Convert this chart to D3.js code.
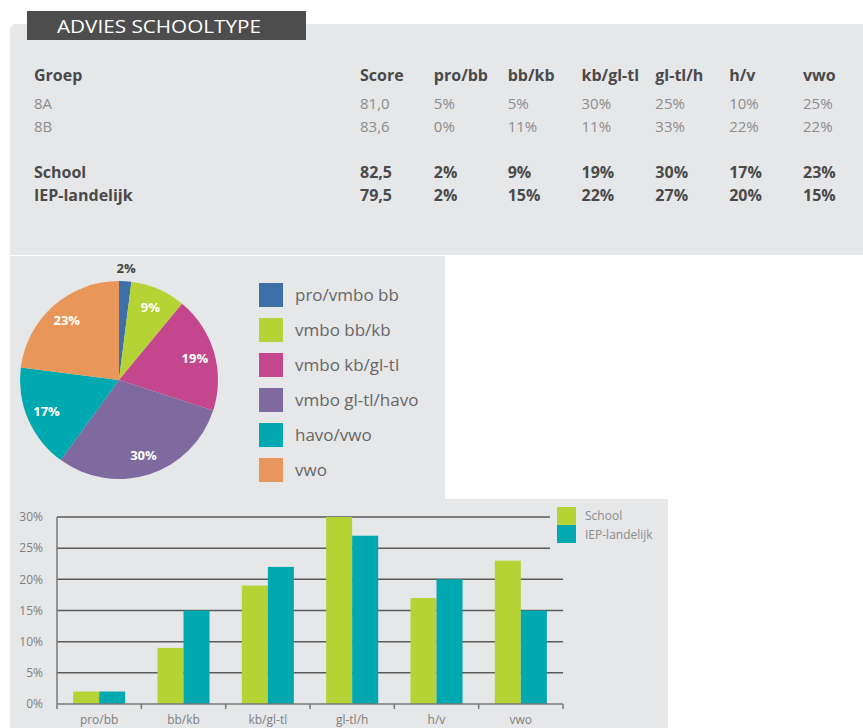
<!DOCTYPE html>
<html>
<head>
<meta charset="utf-8">
<script src="https://cdn.jsdelivr.net/npm/d3@7"></script>
<style>
  body { margin: 0; background: #fff; }
  svg { display: block; font-family: "Open Sans", sans-serif; }
</style>
</head>
<body>
<svg id="chart" width="863" height="728"></svg>
<script>
// DATA
const columns = ["Score", "pro/bb", "bb/kb", "kb/gl-tl", "gl-tl/h", "h/v", "vwo"];
const rowLabels = ["8A", "8B", "School", "IEP-landelijk"];
const scores = ["81,0", "83,6", "82,5", "79,5"];
const row8A = [5, 5, 30, 25, 10, 25];
const row8B = [0, 11, 11, 33, 22, 22];
const school = [2, 9, 19, 30, 17, 23];
const landelijk = [2, 15, 22, 27, 20, 15];

const pieLabels = ["pro/vmbo bb", "vmbo bb/kb", "vmbo kb/gl-tl", "vmbo gl-tl/havo", "havo/vwo", "vwo"];
const pieColors = ["#3d6fa8", "#b5d334", "#c4478e", "#7f6aa0", "#00a9b0", "#e8965a"];

const barCategories = ["pro/bb", "bb/kb", "kb/gl-tl", "gl-tl/h", "h/v", "vwo"];
const barSeries = ["School", "IEP-landelijk"];
const barColors = ["#b5d334", "#00a9b0"];
const yTicks = [0, 5, 10, 15, 20, 25, 30];

const svg = d3.select("#chart");
const panelFill = "#e6e7e8";

// BACKGROUND PANELS
svg.append("path")
  .attr("d", "M10,28 L14,24 L863,24 L863,255 L10,255 Z")
  .attr("fill", panelFill);
svg.append("rect").attr("x", 10).attr("y", 256).attr("width", 435).attr("height", 243).attr("fill", panelFill);
svg.append("rect").attr("x", 10).attr("y", 499).attr("width", 658).attr("height", 229).attr("fill", panelFill);

// TITLE
svg.append("rect").attr("x", 27).attr("y", 11).attr("width", 279).attr("height", 29).attr("fill", "#4d4d4d");
svg.append("text")
  .attr("x", 57).attr("y", 33)
  .attr("fill", "#fff")
  .attr("font-size", 19)
  .attr("textLength", 204)
  .attr("lengthAdjust", "spacingAndGlyphs")
  .text("ADVIES SCHOOLTYPE");

// TABLE
const colX = d3.scalePoint().domain(columns).range([360, 803]);
const rowY = d3.scalePoint().domain(["8A", "8B", "gap", "School", "IEP-landelijk"]).range([109, 201]);
const tableRows = [row8A, row8B, school, landelijk];

const table = svg.append("g");
table.append("text")
  .attr("x", 34).attr("y", 81)
  .attr("font-size", 16).attr("font-weight", "bold").attr("fill", "#4a4a4a")
  .text("Groep");
table.selectAll("text.col")
  .data(columns)
  .join("text")
  .attr("class", "col")
  .attr("x", (d) => colX(d)).attr("y", 81)
  .attr("font-size", 16).attr("font-weight", "bold").attr("fill", "#4a4a4a")
  .text((d) => d);

rowLabels.forEach((label, i) => {
  const bold = i >= 2;
  const cells = [label, scores[i]].concat(tableRows[i].map((v) => v + "%"));
  const xs = [34].concat(columns.map((c) => colX(c)));
  table.append("g")
    .selectAll("text")
    .data(cells)
    .join("text")
    .attr("x", (d, j) => xs[j])
    .attr("y", rowY(label))
    .attr("font-size", bold ? 16 : 15)
    .attr("font-weight", bold ? "bold" : "normal")
    .attr("fill", bold ? "#4a4a4a" : "#8c8c8c")
    .text((d) => d);
});

// PIE
const cx = 119, cy = 380, radius = 99;
const pie = d3.pie().sort(null).value((d) => d)(school);
const arc = d3.arc().innerRadius(0).outerRadius(radius);
const labelArc = d3.arc().innerRadius(79).outerRadius(79);
const outerLabelArc = d3.arc().innerRadius(112).outerRadius(112);

const gp = svg.append("g").attr("transform", `translate(${cx},${cy})`);
gp.selectAll("path")
  .data(pie)
  .join("path")
  .attr("d", arc)
  .attr("fill", (d, i) => pieColors[i]);

gp.selectAll("text")
  .data(pie)
  .join("text")
  .attr("transform", (d) => `translate(${(d.data < 5 ? outerLabelArc : labelArc).centroid(d)})`)
  .attr("text-anchor", "middle")
  .attr("dy", "0.35em")
  .attr("font-size", 13)
  .attr("font-weight", "bold")
  .attr("fill", (d) => (d.data < 5 ? "#444" : "#fff"))
  .text((d) => d.data + "%");

const legend = svg.append("g");
const legendY = d3.scalePoint().domain(pieLabels).range([283, 458]);
legend.selectAll("rect")
  .data(pieLabels)
  .join("rect")
  .attr("x", 259).attr("y", (d) => legendY(d))
  .attr("width", 24).attr("height", 24)
  .attr("fill", (d, i) => pieColors[i]);
legend.selectAll("text")
  .data(pieLabels)
  .join("text")
  .attr("x", 295).attr("y", (d) => legendY(d) + 18)
  .attr("font-size", 17).attr("fill", "#666")
  .text((d) => d);

// BAR CHART
const x = d3.scaleBand().domain(barCategories).range([57, 563]).padding(0);
const x1 = d3.scaleBand().domain(barSeries).range([0, x.bandwidth()]).paddingInner(0).paddingOuter(0.62);
const y = d3.scaleLinear().domain([0, 30]).range([704, 517]);

const gb = svg.append("g");

gb.selectAll("line.grid")
  .data(yTicks.filter((t) => t > 0))
  .join("line")
  .attr("class", "grid")
  .attr("x1", 57)
  .attr("x2", (d) => (d >= 25 ? 550 : 563))
  .attr("y1", (d) => y(d)).attr("y2", (d) => y(d))
  .attr("stroke", "#5a5a5a").attr("stroke-width", 1.5);

gb.selectAll("text.ytick")
  .data(yTicks)
  .join("text")
  .attr("class", "ytick")
  .attr("x", 43).attr("y", (d) => y(d))
  .attr("dy", "0.35em")
  .attr("text-anchor", "end")
  .attr("font-size", 12).attr("fill", "#808080")
  .text((d) => d + "%");

const groupsG = gb.selectAll("g.group")
  .data(barCategories)
  .join("g")
  .attr("class", "group")
  .attr("transform", (d) => `translate(${x(d)},0)`);

groupsG.selectAll("rect")
  .data((d, i) => [school[i], landelijk[i]])
  .join("rect")
  .attr("x", (d, j) => x1(barSeries[j]))
  .attr("y", (d) => y(d))
  .attr("width", x1.bandwidth())
  .attr("height", (d) => y(0) - y(d))
  .attr("fill", (d, j) => barColors[j]);

// axes lines
gb.append("line")
  .attr("x1", 57).attr("x2", 57).attr("y1", y(30)).attr("y2", y(0))
  .attr("stroke", "#777").attr("stroke-width", 1.5);
gb.append("line")
  .attr("x1", 57).attr("x2", 563).attr("y1", y(0)).attr("y2", y(0))
  .attr("stroke", "#777").attr("stroke-width", 1.5);
gb.selectAll("line.xtick")
  .data(barCategories.map((c) => x(c)).concat([563]))
  .join("line")
  .attr("class", "xtick")
  .attr("x1", (d) => d).attr("x2", (d) => d)
  .attr("y1", y(0)).attr("y2", y(0) + 5)
  .attr("stroke", "#777").attr("stroke-width", 1.5);

gb.selectAll("text.xlabel")
  .data(barCategories)
  .join("text")
  .attr("class", "xlabel")
  .attr("x", (d) => x(d) + x.bandwidth() / 2)
  .attr("y", 724)
  .attr("text-anchor", "middle")
  .attr("font-size", 12).attr("fill", "#808080")
  .text((d) => d);

// bar legend
const barLegendY = d3.scalePoint().domain(barSeries).range([507, 525]);
gb.selectAll("rect.leg")
  .data(barSeries)
  .join("rect")
  .attr("class", "leg")
  .attr("x", 557).attr("y", (d) => barLegendY(d))
  .attr("width", 19).attr("height", 18)
  .attr("fill", (d, i) => barColors[i]);
gb.selectAll("text.leg")
  .data(barSeries)
  .join("text")
  .attr("class", "leg")
  .attr("x", 585).attr("y", (d, i) => barLegendY(d) + 13 + i * 1)
  .attr("font-size", 12).attr("fill", "#8c8c8c")
  .text((d) => d);
</script>
</body>
</html>
